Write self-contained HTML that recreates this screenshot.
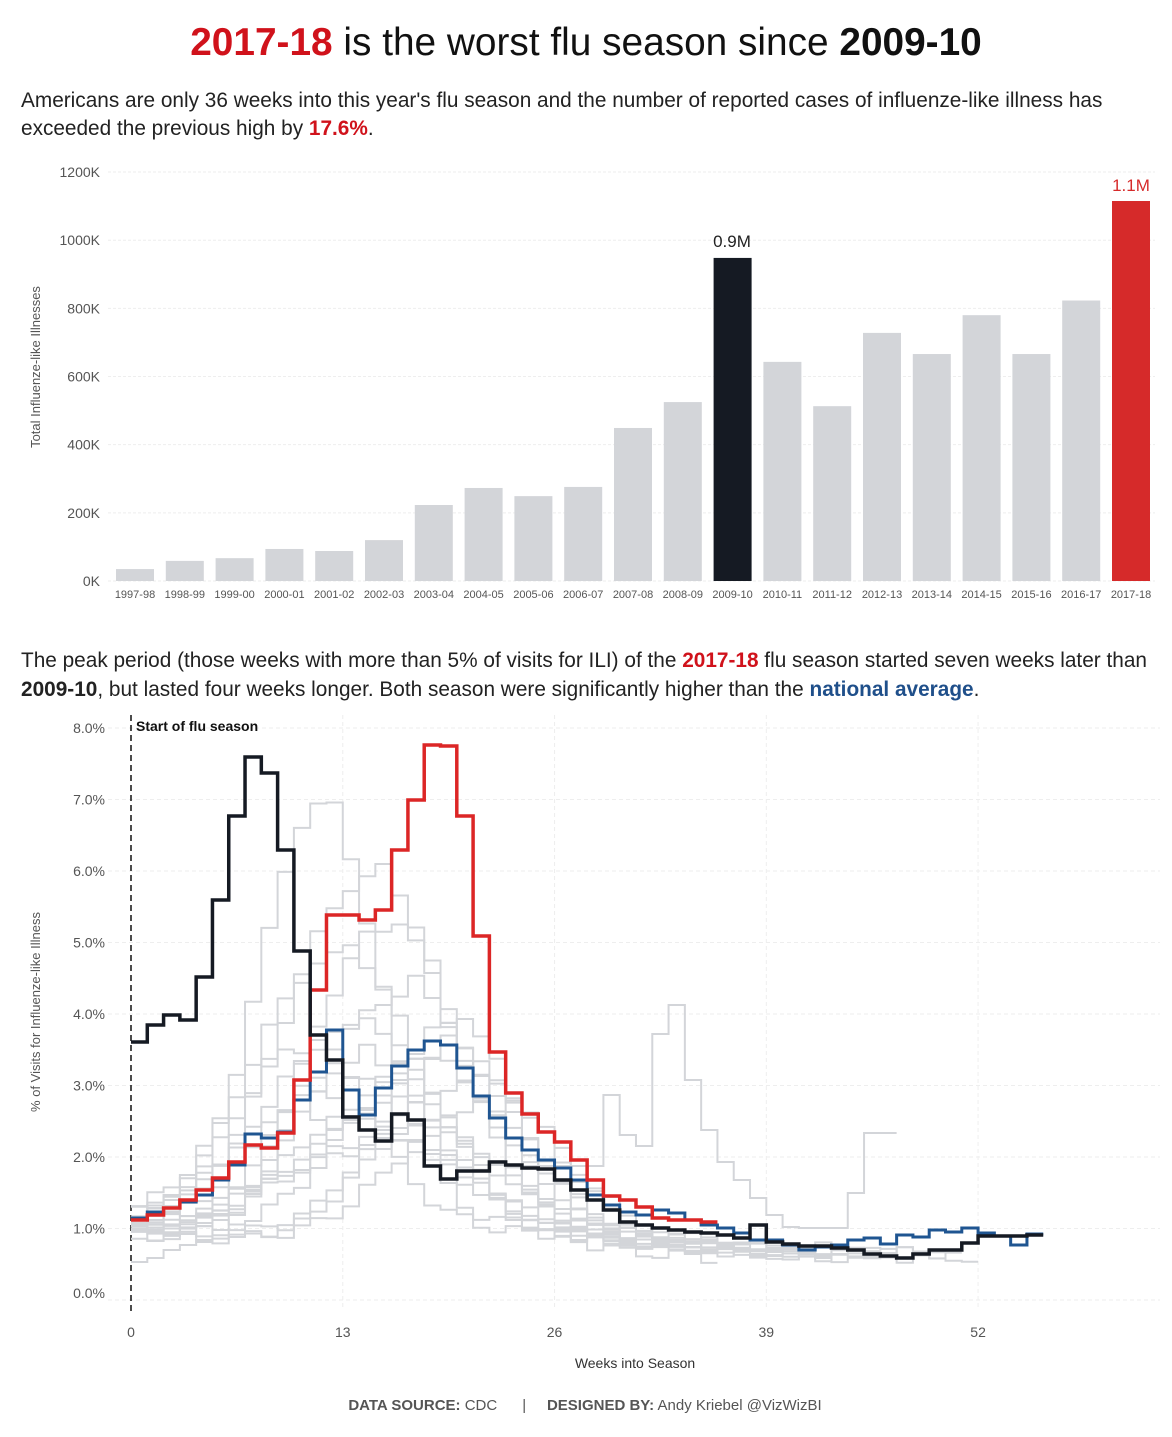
<!DOCTYPE html>
<html><head><meta charset="utf-8">
<style>
body{margin:0;background:#fff;width:1172px;height:1432px;overflow:hidden;font-family:"Liberation Sans",sans-serif;}
svg text{font-family:"Liberation Sans",sans-serif;}
</style></head><body>
<svg id="s" width="1172" height="1432" xmlns="http://www.w3.org/2000/svg">
<text x="586" y="55" text-anchor="middle" font-size="38.8" fill="#111"><tspan fill="#d0121b" font-weight="bold">2017-18</tspan> is the worst flu season since <tspan font-weight="bold">2009-10</tspan></text>
<text x="21" y="107" font-size="20.8" fill="#222">Americans are only 36 weeks into this year's flu season and the number of reported cases of influenze-like illness has</text>
<text x="21" y="135" font-size="20.8" fill="#222">exceeded the previous high by <tspan fill="#d0121b" font-weight="bold">17.6%</tspan>.</text>
<text x="21" y="667" font-size="20.8" fill="#222">The peak period (those weeks with more than 5% of visits for ILI) of the <tspan fill="#d0121b" font-weight="bold">2017-18</tspan> flu season started seven weeks later than</text>
<text x="21" y="696" font-size="20.8" fill="#222"><tspan font-weight="bold">2009-10</tspan>, but lasted four weeks longer. Both season were significantly higher than the <tspan fill="#1f4f8a" font-weight="bold">national average</tspan>.</text>
<text transform="translate(40,367) rotate(-90)" text-anchor="middle" font-size="13" fill="#555">Total Influenze-like Illnesses</text>
<text transform="translate(40,1012) rotate(-90)" text-anchor="middle" font-size="13" fill="#555">% of Visits for Influenze-like Illness</text>
<text x="635" y="1368" text-anchor="middle" font-size="14" fill="#333">Weeks into Season</text>
<text x="585" y="1410" text-anchor="middle" font-size="15" fill="#555"><tspan font-weight="bold">DATA SOURCE:</tspan> CDC &#160;&#160;&#160;&#160; | &#160;&#160;&#160;&#160;<tspan font-weight="bold">DESIGNED BY:</tspan> Andy Kriebel @VizWizBI</text>
<g id="bars"></g>
<g id="lines"></g>
</svg>
<script>
var NS="http://www.w3.org/2000/svg",bars=document.getElementById('bars'),lines=document.getElementById('lines');
function el(p,t,a,txt){var e=document.createElementNS(NS,t);for(var k in a)e.setAttribute(k,a[k]);if(txt!=null)e.textContent=txt;p.appendChild(e);return e;}
var base=581,k=0.3408;
for(var i=0;i<=6;i++){var y=base-i*200*k;el(bars,'line',{x1:108,x2:1155,y1:y,y2:y,stroke:'#eee','stroke-dasharray':'3,2'});
el(bars,'text',{x:100,y:y+5,'text-anchor':'end','font-size':14,fill:'#555'},(i*200)+'K');}
var vals=[35,59,67,94,88,120,223,273,249,276,449,525,948,643,513,728,666,780,666,823,1115];
var labs=['1997-98','1998-99','1999-00','2000-01','2001-02','2002-03','2003-04','2004-05','2005-06','2006-07','2007-08','2008-09','2009-10','2010-11','2011-12','2012-13','2013-14','2014-15','2015-16','2016-17','2017-18'];
for(var i=0;i<21;i++){var cx=135+i*49.8,h=vals[i]*k,c=i==12?'#151a23':i==20?'#d62a2a':'#d3d5d9';
el(bars,'rect',{x:cx-19,y:base-h,width:38,height:h,fill:c});
el(bars,'text',{x:cx,y:598,'text-anchor':'middle','font-size':11,fill:'#555'},labs[i]);}
el(bars,'text',{x:732,y:247,'text-anchor':'middle','font-size':17,fill:'#222'},'0.9M');
el(bars,'text',{x:1131,y:191,'text-anchor':'middle','font-size':17,fill:'#d62a2a'},'1.1M');
var X=function(w){return 131+w*16.29},Y=function(p){return 1300-p*71.5};
for(var i=0;i<=8;i++){var y=Y(i);el(lines,'line',{x1:108,x2:1160,y1:y,y2:y,stroke:'#eee','stroke-dasharray':'4,3'});
el(lines,'text',{x:105,y:y+(i==0?-2:5),'text-anchor':'end','font-size':14,fill:'#555'},i.toFixed(1)+'%');}
[13,26,39,52].forEach(function(w){el(lines,'line',{x1:X(w),x2:X(w),y1:715,y2:1310,stroke:'#eee','stroke-dasharray':'4,3'});});
[0,13,26,39,52].forEach(function(w){el(lines,'text',{x:X(w),y:1337,'text-anchor':'middle','font-size':14,fill:'#555'},w);});
el(lines,'line',{x1:131,x2:131,y1:715,y2:1312,stroke:'#111','stroke-width':1.5,'stroke-dasharray':'6,4'});
el(lines,'text',{x:136,y:731,'font-size':14,'font-weight':'bold',fill:'#111'},'Start of flu season');
function step(ys,col,w){var d='M'+X(0)+','+ys[0];for(var i=1;i<ys.length;i++){d+=' H'+X(i)+' V'+ys[i];}d+=' H'+X(ys.length);
el(lines,'path',{d:d,fill:'none',stroke:col,'stroke-width':w,'stroke-linejoin':'miter'});}
var seeds=[[12,4.9,5,1.1],[11,7.0,3.5,1.2],[14,6.0,5,1.0],[15,5.3,4.5,1.0],[16,4.4,5,1.0],[13,3.9,5,1.1],[18,3.6,5,1.0],[17,3.3,6,0.9],[19,4.0,4,1.0],[12,3.0,6,1.0],[20,3.2,5,0.9],[15,2.7,6,1.0],[10,3.6,4,1.1],[16,2.4,7,0.9],[14,2.2,6,0.8],[21,2.9,5,0.9],[13,3.4,5,1.0]];
seeds.forEach(function(s,j){var ys=[],n=30+(j*7)%23;for(var w=0;w<n;w++){var g=Math.exp(-Math.pow(w-s[0],2)/(2*s[2]*s[2]));var tail=(w>s[0])?0.3*Math.exp(-(w-s[0])/10):0;var v=s[3]*(1-0.35*Math.min(1,w/40))+ (s[1]-s[3])*g+tail+0.08*Math.sin(w*1.7+j);ys.push(Y(v));}step(ys,'#d3d5d9',2);});
step([1262,1258,1250,1245,1240,1230,1215,1190,1160,1130,1100,1120,1130,1120,1110,1130,1140,1140,1150,1155,1160,1165,1165,1166,1166,1166,1166,1166,1166,1095,1135,1146,1034,1005,1080,1130,1162,1180,1198,1215,1227,1228,1228,1228,1193,1133,1133],'#d3d5d9',2);
step([1218,1212,1208,1202,1195,1180,1165,1134,1138,1132,1100,1072,1030,1090,1115,1088,1066,1050,1041,1045,1068,1096,1118,1138,1150,1160,1168,1180,1195,1205,1212,1215,1210,1213,1220,1225,1228,1233,1240,1240,1245,1250,1247,1245,1240,1238,1244,1235,1237,1230,1232,1228,1233,1236,1245,1234],'#1f5591',3);
step([1220,1215,1208,1200,1190,1178,1162,1145,1148,1133,1080,990,915,915,920,910,850,800,745,746,816,936,1052,1093,1114,1132,1142,1160,1180,1196,1200,1207,1218,1220,1220,1222],'#dc2626',3.5);
step([1042,1025,1015,1020,977,900,816,757,773,850,951,1035,1060,1117,1130,1141,1114,1120,1166,1179,1171,1171,1162,1165,1168,1169,1180,1190,1200,1210,1222,1225,1228,1230,1232,1233,1235,1238,1225,1242,1244,1246,1246,1248,1250,1254,1256,1258,1254,1250,1250,1243,1236,1236,1236,1235],'#151a23',3.5);
</script>
</body></html>
